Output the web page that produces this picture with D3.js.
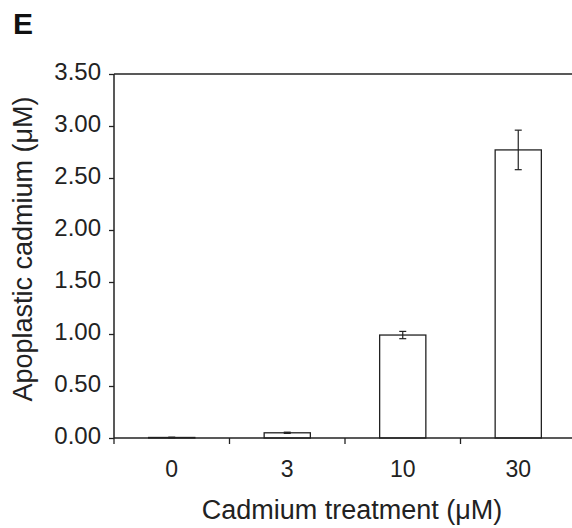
<!DOCTYPE html>
<html><head><meta charset="utf-8">
<script src="https://cdn.jsdelivr.net/npm/d3@7"></script>
<style>body{margin:0;background:#fff}svg{display:block}</style>
</head><body>
<script>
const categories = ["0", "3", "10", "30"];
const values = [0.005, 0.05, 0.99, 2.77];
const errors = [0.003, 0.006, 0.035, 0.19];
const yTicks = [0, 0.5, 1.0, 1.5, 2.0, 2.5, 3.0, 3.5];

(function () {
const W = 572, H = 528;
const mLeft = 114, mRight = 576, mTop = 74, mBottom = 438;
const font = "Liberation Sans, Arial, sans-serif";
const ink = "#222";

const svg = d3.select("body").append("svg").attr("width", W).attr("height", H);

const x = d3.scaleBand().domain(categories).range([mLeft, mRight]).padding(0);
const y = d3.scaleLinear().domain([0, 3.5]).range([mBottom, mTop]);
const barW = x.bandwidth() * 0.4;

// top frame line
svg.append("line").attr("x1", mLeft).attr("x2", W).attr("y1", y(3.5)).attr("y2", y(3.5))
  .attr("stroke", ink).attr("stroke-width", 1.5);

// bars
svg.selectAll("rect.bar").data(categories).enter().append("rect")
  .attr("x", d => x(d) + x.bandwidth() / 2 - barW / 2)
  .attr("y", (d, i) => y(values[i]))
  .attr("width", barW)
  .attr("height", (d, i) => y(0) - y(values[i]))
  .attr("fill", "#fff").attr("stroke", ink).attr("stroke-width", 1.3);

// error bars
const eg = svg.selectAll("g.err").data(categories).enter().append("g");
eg.append("line")
  .attr("x1", d => x(d) + x.bandwidth() / 2).attr("x2", d => x(d) + x.bandwidth() / 2)
  .attr("y1", (d, i) => y(values[i] + errors[i])).attr("y2", (d, i) => y(values[i] - errors[i]))
  .attr("stroke", ink).attr("stroke-width", 1.2);
[1, -1].forEach(s => {
  eg.append("line")
    .attr("x1", d => x(d) + x.bandwidth() / 2 - 3.5).attr("x2", d => x(d) + x.bandwidth() / 2 + 3.5)
    .attr("y1", (d, i) => y(values[i] + s * errors[i])).attr("y2", (d, i) => y(values[i] + s * errors[i]))
    .attr("stroke", ink).attr("stroke-width", 1.2);
});

// y axis
const yAxis = d3.axisLeft(y).tickValues(yTicks).tickFormat(d3.format(".2f")).tickSize(5).tickPadding(8);
const ga = svg.append("g").attr("transform", `translate(${mLeft},0)`).call(yAxis);
ga.select(".domain").attr("stroke", ink).attr("stroke-width", 1.5).attr("d", `M0,${mTop}V${mBottom}`);
ga.selectAll(".tick line").attr("stroke", ink).attr("stroke-width", 1.3);
ga.selectAll("text").attr("font-family", font).attr("font-size", 24).attr("fill", "#222").attr("dy", "0.22em");

// x axis
const gx = svg.append("g").attr("transform", `translate(0,${mBottom})`);
gx.append("line").attr("x1", mLeft).attr("x2", W).attr("y1", 0).attr("y2", 0)
  .attr("stroke", ink).attr("stroke-width", 1.5);
gx.selectAll("line.t").data(categories).enter().append("line")
  .attr("x1", d => x(d)).attr("x2", d => x(d)).attr("y1", 0).attr("y2", 6)
  .attr("stroke", ink).attr("stroke-width", 1.3);
gx.selectAll("text").data(categories).enter().append("text")
  .attr("x", d => x(d) + x.bandwidth() / 2).attr("y", 39)
  .attr("text-anchor", "middle").attr("font-family", font).attr("font-size", 23).attr("fill", "#222")
  .text(d => d);

// axis titles
svg.append("text").attr("x", 352).attr("y", 519).attr("text-anchor", "middle")
  .attr("font-family", font).attr("font-size", 27).attr("fill", "#222").text("Cadmium treatment (μM)");
svg.append("text").attr("transform", `translate(32,249) rotate(-90)`).attr("text-anchor", "middle")
  .attr("font-family", font).attr("font-size", 27).attr("fill", "#222").text("Apoplastic cadmium (μM)");

// panel letter
svg.append("text").attr("x", 13).attr("y", 34).attr("font-family", font).attr("font-weight", "bold")
  .attr("font-size", 30).attr("fill", "#111").text("E");
})();
</script>
</body></html>
